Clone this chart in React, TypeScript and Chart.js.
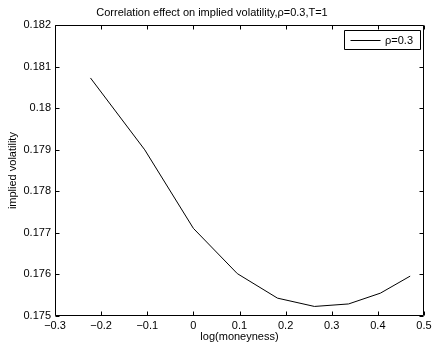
import React, { useEffect, useRef } from 'react';
import { Chart, registerables } from 'chart.js';

Chart.register(...registerables);

const chartTitle = 'Correlation effect on implied volatility,ρ=0.3,T=1';
const xAxisTitle = 'log(moneyness)';
const yAxisTitle = 'implied volatility';
const seriesLabel = 'ρ=0.3';

const logMoneyness = [-0.2231, -0.1054, 0, 0.0953, 0.1823, 0.2624, 0.3365, 0.4055, 0.47];
const impliedVol = [0.18073, 0.179, 0.17711, 0.17602, 0.17543, 0.17523, 0.17529, 0.17555, 0.17596];

const xTickValues = [-0.3, -0.2, -0.1, 0, 0.1, 0.2, 0.3, 0.4, 0.5];
const xTickLabels = ['\u22120.3', '\u22120.2', '\u22120.1', '0', '0.1', '0.2', '0.3', '0.4', '0.5'];
const yTickValues = [0.175, 0.176, 0.177, 0.178, 0.179, 0.18, 0.181, 0.182];
const yTickLabels = ['0.175', '0.176', '0.177', '0.178', '0.179', '0.18', '0.181', '0.182'];

const FONT = "'Liberation Sans', Arial, Helvetica, sans-serif";

const framePlugin = {
  id: 'matlabFrame',
  afterDraw(chart: any) {
    const { ctx, chartArea: a, scales } = chart;
    const L = Math.round(a.left) + 0.5;
    const R = Math.round(a.right) - 0.5;
    const T = Math.round(a.top) + 0.5;
    const B = Math.round(a.bottom) - 0.5;
    const tl = 4;
    ctx.save();
    ctx.strokeStyle = '#000';
    ctx.lineWidth = 1;
    ctx.beginPath();
    ctx.rect(L, T, R - L, B - T);
    scales.x.ticks.forEach((t: any) => {
      const px = Math.round(scales.x.getPixelForValue(t.value)) + 0.5;
      ctx.moveTo(px, B);
      ctx.lineTo(px, B - tl);
      ctx.moveTo(px, T);
      ctx.lineTo(px, T + tl);
    });
    scales.y.ticks.forEach((t: any) => {
      const py = Math.round(scales.y.getPixelForValue(t.value)) + 0.5;
      ctx.moveTo(L, py);
      ctx.lineTo(L + tl, py);
      ctx.moveTo(R, py);
      ctx.lineTo(R - tl, py);
    });
    ctx.stroke();

    // legend box (top-right inside the axes)
    const ds = chart.data.datasets[0];
    ctx.font = `11px ${FONT}`;
    const textW = ctx.measureText(ds.label).width;
    const x1 = R - 3;
    const textX = x1 - 7.5 - textW;
    const lineEnd = textX - 4.5;
    const lineStart = lineEnd - 30;
    const x0 = Math.round(lineStart - 6.5) + 0.5;
    const y0 = T + 5;
    const y1 = y0 + 19;
    const cy = (y0 + y1) / 2;
    ctx.fillStyle = '#fff';
    ctx.fillRect(x0, y0, x1 - x0, y1 - y0);
    ctx.beginPath();
    ctx.rect(x0, y0, x1 - x0, y1 - y0);
    ctx.stroke();
    ctx.beginPath();
    ctx.strokeStyle = ds.borderColor;
    ctx.lineWidth = ds.borderWidth;
    ctx.moveTo(lineStart, Math.round(cy) + 0.5);
    ctx.lineTo(lineEnd, Math.round(cy) + 0.5);
    ctx.stroke();
    ctx.fillStyle = '#000';
    ctx.textAlign = 'left';
    ctx.textBaseline = 'middle';
    ctx.fillText(ds.label, textX, cy + 0.5);
    ctx.restore();
  },
};

export default function App() {
  const ref = useRef<HTMLCanvasElement | null>(null);

  useEffect(() => {
    document.body.style.margin = '0';
    const canvas = ref.current;
    if (!canvas) return;
    Chart.defaults.font.family = FONT;
    Chart.defaults.font.size = 11;
    Chart.defaults.color = '#000';

    const chart = new Chart(canvas, {
      type: 'line',
      data: {
        datasets: [
          {
            label: seriesLabel,
            data: logMoneyness.map((x, i) => ({ x, y: impliedVol[i] })),
            borderColor: '#000',
            backgroundColor: '#000',
            borderWidth: 1,
            pointRadius: 0,
            tension: 0,
            fill: false,
          },
        ],
      },
      options: {
        responsive: false,
        animation: false,
        layout: { padding: { left: 0, right: 8, top: 0, bottom: 0 } },
        plugins: {
          title: {
            display: true,
            text: chartTitle,
            color: '#000',
            font: { family: FONT, size: 11, weight: 'normal' },
            padding: { top: 6, bottom: 6 },
          },
          legend: { display: false },
          tooltip: { enabled: false },
        },
        scales: {
          x: {
            type: 'linear',
            min: -0.3,
            max: 0.5,
            afterBuildTicks: (scale: any) => {
              scale.ticks = xTickValues.map((v) => ({ value: v }));
            },
            afterFit: (scale: any) => {
              scale.height = 30;
              scale.paddingLeft = 0;
              scale.paddingRight = 0;
            },
            grid: { display: false, drawTicks: false },
            border: { display: false },
            ticks: {
              padding: 3,
              maxRotation: 0,
              autoSkip: false,
              color: '#000',
              font: { family: FONT, size: 11 },
              callback: (_v: any, i: number) => xTickLabels[i],
            },
            title: {
              display: true,
              text: xAxisTitle,
              color: '#000',
              font: { family: FONT, size: 11 },
              padding: { top: 0, bottom: 2 },
            },
          },
          y: {
            type: 'linear',
            min: 0.175,
            max: 0.182,
            afterBuildTicks: (scale: any) => {
              scale.ticks = yTickValues.map((v) => ({ value: v }));
            },
            afterFit: (scale: any) => {
              scale.width = 55;
              scale.paddingTop = 0;
              scale.paddingBottom = 0;
            },
            grid: { display: false, drawTicks: false },
            border: { display: false },
            ticks: {
              padding: 4,
              autoSkip: false,
              color: '#000',
              font: { family: FONT, size: 11 },
              callback: (_v: any, i: number) => yTickLabels[i],
            },
            title: {
              display: true,
              text: yAxisTitle,
              color: '#000',
              font: { family: FONT, size: 11 },
              padding: { top: 6, bottom: 0 },
            },
          },
        },
      } as any,
      plugins: [framePlugin],
    });

    return () => chart.destroy();
  }, []);

  return (
    <div style={{ position: 'absolute', left: 0, top: 0, width: 432, height: 346, background: '#fff' }}>
      <canvas ref={ref} width={432} height={346} style={{ display: 'block', width: 432, height: 346 }} />
    </div>
  );
}
